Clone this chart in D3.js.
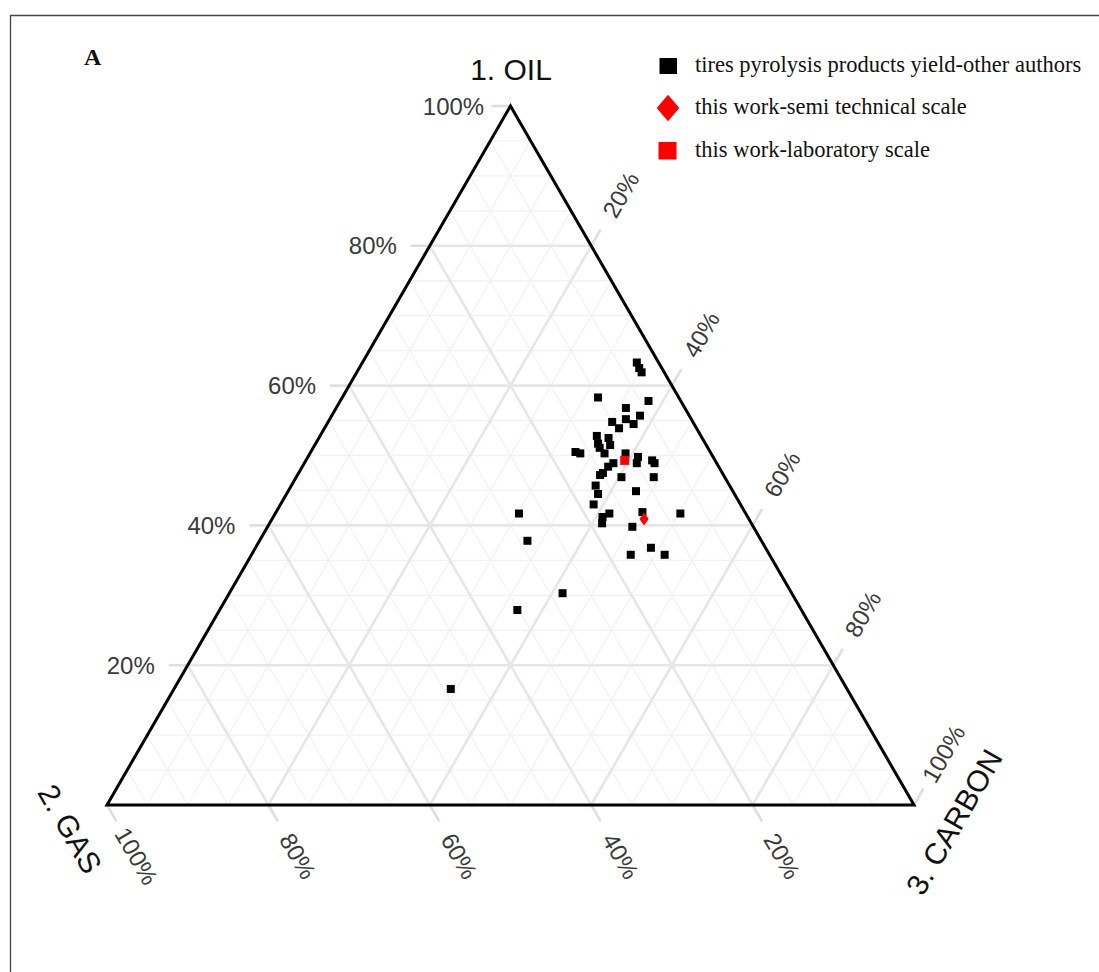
<!DOCTYPE html>
<html>
<head>
<meta charset="utf-8">
<script src="https://cdn.jsdelivr.net/npm/d3@7"></script>
<style>
  body { margin: 0; background: #fff; }
  svg { display: block; }
</style>
</head>
<body>
<svg></svg>
<script>
// composition, in % (oil, gas, carbon)
let otherOil = [63.3, 62.5, 61.9, 58.3, 57.8, 56.8, 54.8, 55.2, 55.7, 54.5, 53.9, 52.8, 52.5, 51.7, 51.5, 51.1,
                50.5, 50.3, 50.3, 50.3, 49.8, 48.9, 49.3, 48.9, 48.9, 48.4, 47.5, 47.2, 46.9, 46.9, 45.7, 44.5,
                44.9, 43.0, 41.7, 41.2, 40.3, 41.9, 39.8, 41.7, 36.8, 35.8, 35.8, 41.7, 37.8, 30.3, 27.9, 16.6];
let otherGas = [2.7, 2.8, 2.8, 10.0, 4.0, 7.3, 10.0, 8.1, 6.1, 7.5, 9.6, 12.9, 11.6, 13.3, 11.9, 13.4,
                16.7, 16.2, 13.2, 10.6, 9.3, 9.9, 7.8, 7.7, 12.8, 13.7, 14.8, 15.3, 12.8, 8.8, 16.6, 16.9,
                12.0, 18.2, 16.9, 18.0, 18.5, 12.7, 15.0, 8.1, 14.2, 17.2, 13.0, 28.1, 29.0, 28.4, 35.2, 49.1];
let otherCarbon = [34.0, 34.7, 35.3, 31.7, 38.2, 35.9, 35.2, 36.7, 38.2, 38.0, 36.5, 34.3, 35.9, 35.0, 36.6, 35.5,
                   32.8, 33.5, 36.5, 39.1, 40.9, 41.2, 42.9, 43.4, 38.3, 37.9, 37.7, 37.5, 40.3, 44.3, 37.7, 38.6,
                   43.1, 38.8, 41.4, 40.8, 41.2, 45.4, 45.2, 50.2, 49.0, 47.0, 51.2, 30.2, 33.2, 41.3, 36.9, 34.3];

let semiOil = [40.9];
let semiGas = [13.0];
let semiCarbon = [46.1];

let labOil = [49.3];
let labGas = [11.2];
let labCarbon = [39.5];

let axisTitles = ['1. OIL', '2. GAS', '3. CARBON'];
let tickValues = [20, 40, 60, 80, 100];
let legendLabels = ['tires pyrolysis products yield-other authors',
                    'this work-semi technical scale',
                    'this work-laboratory scale'];

let width = 1099;
let height = 972;

let triLeft = 107;
let triRight = 914;
let triTop = 106;
let triBottom = 805;

const svg = d3.select('svg')
              .attr('width', width)
              .attr('height', height);

// horizontal position uses carbon + oil/2, vertical uses oil
let xScale = d3.scaleLinear().domain([0, 100]).range([triLeft, triRight]);
let yScale = d3.scaleLinear().domain([0, 100]).range([triBottom, triTop]);

let pos = (oil, gas, carbon) => {
    let s = oil + gas + carbon;
    let o = oil / s * 100;
    let c = carbon / s * 100;
    return [xScale(c + o / 2), yScale(o)];
}

let toRows = (oil, gas, carbon) => oil.map((d, i) => ({oil: d, gas: gas[i], carbon: carbon[i]}));

let others = toRows(otherOil, otherGas, otherCarbon);
let semi = toRows(semiOil, semiGas, semiCarbon);
let lab = toRows(labOil, labGas, labCarbon);

let drawFrame = () => {
    svg.append('path')
       .attr('d', 'M10.5,' + height + ' L10.5,15.5 L' + width + ',15.5')
       .attr('fill', 'none')
       .attr('stroke', '#444')
       .attr('stroke-width', 1.3);

    svg.append('text')
       .attr('x', 84)
       .attr('y', 65)
       .attr('font-family', 'Liberation Serif')
       .attr('font-weight', 'bold')
       .attr('font-size', 24)
       .attr('fill', '#111')
       .text('A');
}

let drawGrid = () => {
    let grid = svg.append('g');
    let values = d3.range(5, 100, 5);

    let lines = [];
    values.forEach((v) => {
        let major = v % 20 === 0;
        lines.push({major: major, a: pos(v, 100 - v, 0), b: pos(v, 0, 100 - v)});
        lines.push({major: major, a: pos(0, 100 - v, v), b: pos(100 - v, 0, v)});
        lines.push({major: major, a: pos(0, v, 100 - v), b: pos(100 - v, v, 0)});
    });

    // minor first, major on top
    lines.sort((p, q) => p.major - q.major);

    grid.selectAll('line')
        .data(lines)
        .enter()
        .append('line')
        .attr('x1', (d) => d.a[0])
        .attr('y1', (d) => d.a[1])
        .attr('x2', (d) => d.b[0])
        .attr('y2', (d) => d.b[1])
        .attr('stroke', (d) => d.major ? '#e6e6e6' : '#f2f2f2')
        .attr('stroke-width', (d) => d.major ? 2.6 : 1.3);
}

let drawTicks = () => {
    let ticks = svg.append('g');
    let len = 19;
    let gap = 57;
    let cx = Math.cos(Math.PI / 3);
    let sy = Math.sin(Math.PI / 3);

    // oil: left edge, pointing left
    let oilTicks = tickValues.map((v) => ({v: v, p: pos(v, 100 - v, 0), dx: -1, dy: 0, r: 0}));
    // carbon: right edge, pointing up-right
    let carbonTicks = tickValues.map((v) => ({v: v, p: pos(100 - v, 0, v), dx: cx, dy: -sy, r: -60}));
    // gas: bottom edge, pointing down-right
    let gasTicks = tickValues.map((v) => ({v: v, p: pos(0, v, 100 - v), dx: cx, dy: sy, r: 60}));

    let all = oilTicks.concat(carbonTicks, gasTicks);

    ticks.selectAll('line')
         .data(all)
         .enter()
         .append('line')
         .attr('x1', (d) => d.p[0])
         .attr('y1', (d) => d.p[1])
         .attr('x2', (d) => d.p[0] + d.dx * len)
         .attr('y2', (d) => d.p[1] + d.dy * len)
         .attr('stroke', '#dedede')
         .attr('stroke-width', 2.6);

    // labels are centred a fixed distance out along the tick direction
    ticks.selectAll('text')
         .data(all)
         .enter()
         .append('text')
         .attr('transform', (d) => {
             let g = d.r === 0 ? gap : gap + 2;
             return 'translate(' + (d.p[0] + d.dx * g) + ',' + (d.p[1] + d.dy * g) + ') rotate(' + d.r + ')';
         })
         .attr('text-anchor', 'middle')
         .attr('dominant-baseline', 'central')
         .attr('font-family', 'Liberation Sans, Arial, sans-serif')
         .attr('font-size', 24)
         .attr('fill', '#3a3a3a')
         .text((d) => d.v + '%');
}

let drawTriangle = () => {
    let corners = [pos(100, 0, 0), pos(0, 100, 0), pos(0, 0, 100)];
    svg.append('path')
       .attr('d', d3.line()(corners) + 'Z')
       .attr('fill', 'none')
       .attr('stroke', '#000')
       .attr('stroke-width', 3)
       .attr('stroke-linejoin', 'miter');

    let titles = [
        {t: axisTitles[0], x: 511, y: 69, r: 0},
        {t: axisTitles[1], x: 70, y: 829, r: 60},
        {t: axisTitles[2], x: 954, y: 822, r: -60}
    ];

    svg.selectAll('.axis-title')
       .data(titles)
       .enter()
       .append('text')
       .attr('class', 'axis-title')
       .attr('transform', (d) => 'translate(' + d.x + ',' + d.y + ') rotate(' + d.r + ')')
       .attr('text-anchor', 'middle')
       .attr('dominant-baseline', 'central')
       .attr('font-family', 'Liberation Sans, Arial, sans-serif')
       .attr('font-size', 30)
       .attr('fill', '#111')
       .text((d) => d.t);
}

let drawPoints = () => {
    let s = 8;
    svg.append('g')
       .selectAll('rect')
       .data(others)
       .enter()
       .append('rect')
       .attr('x', (d) => pos(d.oil, d.gas, d.carbon)[0] - s / 2)
       .attr('y', (d) => pos(d.oil, d.gas, d.carbon)[1] - s / 2)
       .attr('width', s)
       .attr('height', s)
       .attr('fill', '#000');

    svg.append('g')
       .selectAll('rect')
       .data(lab)
       .enter()
       .append('rect')
       .attr('x', (d) => pos(d.oil, d.gas, d.carbon)[0] - 4.5)
       .attr('y', (d) => pos(d.oil, d.gas, d.carbon)[1] - 4.5)
       .attr('width', 9)
       .attr('height', 9)
       .attr('fill', '#ff0000');

    svg.append('g')
       .selectAll('path')
       .data(semi)
       .enter()
       .append('path')
       .attr('transform', (d) => 'translate(' + pos(d.oil, d.gas, d.carbon).join(',') + ')')
       .attr('d', 'M0,-6.5 L4.6,0 L0,6.5 L-4.6,0 Z')
       .attr('fill', '#ff0000');
}

let drawLegend = () => {
    let legend = svg.append('g').attr('transform', 'translate(668, 0)');
    let rows = [66, 108, 150.5];

    legend.append('rect')
          .attr('x', -8.5).attr('y', rows[0] - 8)
          .attr('width', 17.5).attr('height', 16)
          .attr('fill', '#000');

    legend.append('path')
          .attr('transform', 'translate(0,' + rows[1] + ')')
          .attr('d', 'M0,-13.3 L11.3,0 L0,13.3 L-11.3,0 Z')
          .attr('fill', '#ff0000');

    legend.append('rect')
          .attr('x', -9.5).attr('y', rows[2] - 8.5)
          .attr('width', 18).attr('height', 17.5)
          .attr('fill', '#ff0000');

    legend.selectAll('text')
          .data(legendLabels)
          .enter()
          .append('text')
          .attr('x', 27)
          .attr('y', (d, i) => rows[i] + 6)
          .attr('font-family', 'Liberation Serif, Times New Roman, serif')
          .attr('font-size', 22.5)
          .attr('fill', '#111')
          .text((d) => d);
}

drawFrame();
drawGrid();
drawTicks();
drawTriangle();
drawPoints();
drawLegend();
</script>
</body>
</html>
